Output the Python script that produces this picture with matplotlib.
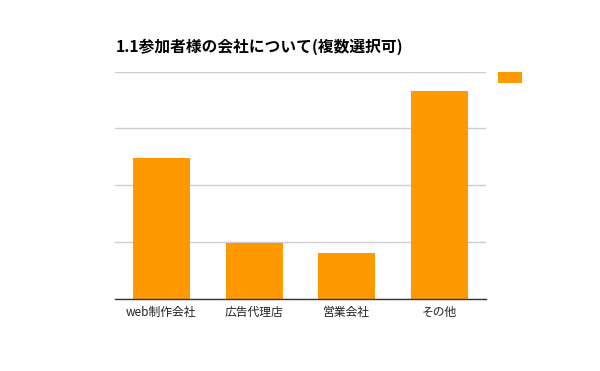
import matplotlib
matplotlib.use("Agg")
import matplotlib.pyplot as plt

# data
categories = ["web制作会社", "広告代理店", "営業会社", "その他"]
counts = [24.8, 9.9, 8.1, 36.5]
y_ticks = [0, 10, 20, 30, 40]

BAR_COLOR = "#ff9900"

plt.rcParams["font.family"] = ["Noto Sans CJK JP", "DejaVu Sans"]

fig = plt.figure(figsize=(6.0, 3.71), dpi=100)
fig.patch.set_facecolor("white")
ax = fig.add_axes([115 / 600, 1 - 299.3 / 371, 371 / 600, (299.3 - 71.5) / 371])

x = range(len(categories))
bars = ax.bar(x, counts, width=0.615, color=BAR_COLOR, zorder=3)

ax.set_xlim(-0.5, len(categories) - 0.5)
ax.set_ylim(y_ticks[0], y_ticks[-1])
ax.set_yticks(y_ticks)
ax.set_yticklabels([])
ax.yaxis.grid(True, color="#cccccc", linewidth=1.0, zorder=0)
ax.tick_params(axis="y", length=0)
ax.set_xticks(list(x))
ax.set_xticklabels(categories, fontsize=8.5, color="#222222")
ax.tick_params(axis="x", length=0, pad=5)

for side in ["top", "right", "left"]:
    ax.spines[side].set_visible(False)
ax.spines["bottom"].set_color("#333333")
ax.spines["bottom"].set_linewidth(1.0)
ax.spines["bottom"].set_zorder(4)

# legend with only the colour swatch
leg = fig.legend([bars], [""], loc="upper left",
                 bbox_to_anchor=(498 / 600, 1 - 71 / 371),
                 bbox_transform=fig.transFigure, frameon=False,
                 fontsize=10, handlelength=24 / 13.9, handleheight=12 / 13.9,
                 borderpad=0, borderaxespad=0, handletextpad=0)

fig.text(115.5 / 600, 1 - 52 / 371, "1.1参加者様の会社について(複数選択可)",
         fontsize=11.3, fontweight="bold", color="#000000", ha="left", va="baseline")

fig.savefig("out.png", dpi=100, facecolor="white")
